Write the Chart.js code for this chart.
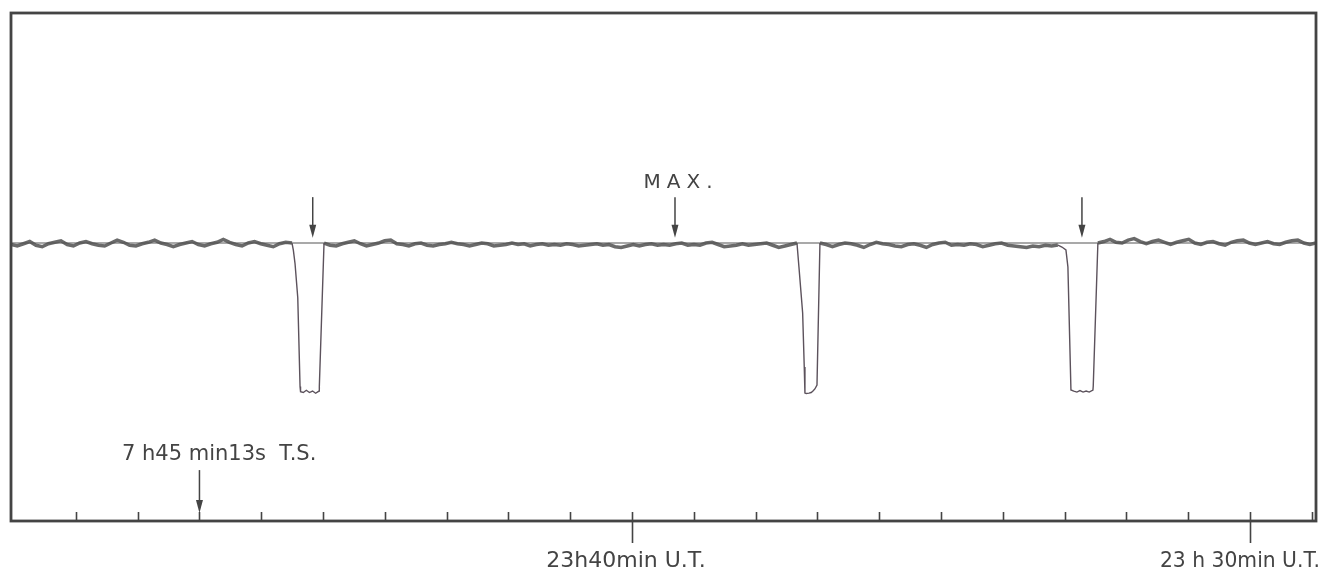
<!DOCTYPE html>
<html>
<head>
<meta charset="utf-8">
<script src="https://cdn.jsdelivr.net/npm/chart.js@4.4.1/dist/chart.umd.min.js"></script>
<style>
  html, body { margin: 0; padding: 0; background: #fff; }
  #wrap { width: 1323px; height: 572px; }
</style>
</head>
<body>
<div id="wrap"><canvas id="rec" width="1323" height="572"></canvas></div>
<script>
// --- recorder trace, x in minutes from left frame, y in % of full deflection ---
const X_MIN = -0.05;
const X_MAX = 21.07;

// baseline noise (evenly spaced samples)
const noiseA = { from: -0.05, to: 4.498, y: [-1, -2, -0.5, 1, -1.5, -2.5, -0.5, 0.5, 1.5, -1, -2, 0, 1, -0.5, -1.5, -2, 0, 2, 0.5, -1.5, -2, -0.5, 0.5, 2, 0, -1, -2.5, -1, 0, 1, -1, -2, -0.5, 0.5, 2.5, 0.5, -1, -2, 0, 1, -0.5, -1.5, -2.5, -0.5, 0.5, 0] };
const noiseB = { from: 5.016, to: 12.670, y: [0, -1.5, -2, -0.5, 0.5, 1.5, -0.5, -2, -1, 0, 1.5, 2, -0.5, -1, -2, -0.5, 0, -1.5, -2, -1, -0.5, 0.5, -0.5, -1, -2, -1, 0, -0.5, -2, -1.5, -1, 0, -1, -0.5, -2, -1, -0.5, -1.5, -1, -1.5, -0.5, -1, -2, -1.5, -1, -0.5, -1.5, -1, -2.5, -3, -2, -1, -2, -1, -0.5, -1.5, -1, -1.5, -0.5, 0, -1.5, -1, -1.5, 0, 0.5, -1, -2.5, -2, -1.5, -0.5, -1.5, -1, -0.5, 0, -1.5, -3, -2, -1, 0] };
const noiseC = { from: 13.042, to: 16.893, y: [0, -1, -2.5, -1, 0, -0.5, -1.5, -3, -1, 0.5, -0.5, -1, -2, -2.5, -1, -0.5, -1.5, -3, -1, 0, 0.5, -1.5, -1, -1.5, -0.5, -1, -2.5, -1.5, -0.5, 0, -1.5, -2, -2.5, -3, -2, -2.5, -1.5, -2, -1.4] };
const noiseD = { from: 17.540, to: 21.07, y: [0, 1, 2.5, 0.5, 0, 2, 3, 1, -0.5, 1, 2, 0.5, -1, 0.5, 1.5, 2.5, 0, -1, 0.5, 1, -0.5, -1.5, 0.5, 1.5, 2, 0, -1, 0, 1, -0.5, -1, 0.5, 1.5, 2, 0, -1, 0] };

// the three dips
const dip1X = [4.498, 4.52, 4.547, 4.591, 4.628, 4.636, 4.68, 4.73, 4.78, 4.83, 4.88, 4.935, 4.94, 5.016];
const dip1Y = [0, -5, -14, -37, -97, -100.5, -101, -99.5, -101, -100, -101.5, -100, -97, 0];
const dip2X = [12.670, 12.702, 12.762, 12.788, 12.799, 12.82, 12.864, 12.90, 12.929, 12.96, 12.994, 13.042];
const dip2Y = [0, -16.2, -47.3, -83.8, -101.4, -101.7, -101.4, -101, -100, -98.6, -95.9, 0];
const dip3X = [16.893, 16.958, 17.023, 17.055, 17.104, 17.15, 17.2, 17.25, 17.3, 17.35, 17.4, 17.46, 17.465, 17.540];
const dip3Y = [-1.4, -2.7, -4.7, -16.2, -99.3, -100, -100.7, -99.7, -100.7, -100, -100.7, -99.3, -96.6, 0];

// time scale: one tick per minute, two labelled ones
const minuteTicks = [1, 2, 3, 4, 5, 6, 7, 8, 9, 10, 11, 12, 13, 14, 15, 16, 17, 18, 19, 20, 21];
const majorTicks = [10, 20];
const majorLabels = ['23h40min U.T.', '23 h 30min U.T.'];

// marks above the trace
const arrowAt = [4.833, 10.696, 17.282];
const maxLabel = 'MAX.';
const siderealAt = 3;
const siderealLabel = '7 h45 min13s  T.S.';

const INK = '#444';
const FONT = '"DejaVu Sans", "Liberation Sans", sans-serif';

function seg(s) {
  const n = s.y.length;
  return s.y.map((v, i) => ({ x: s.from + (s.to - s.from) * i / (n - 1), y: v }));
}
function pairs(xs, ys) {
  return xs.map((v, i) => ({ x: v, y: ys[i] }));
}

function arrow(ctx, px, y0, y1) {
  ctx.beginPath();
  ctx.moveTo(px, y0);
  ctx.lineTo(px, y1 - 10);
  ctx.stroke();
  ctx.beginPath();
  ctx.moveTo(px - 3.5, y1 - 13);
  ctx.lineTo(px + 3.5, y1 - 13);
  ctx.lineTo(px, y1);
  ctx.closePath();
  ctx.fill();
}

const decorations = {
  id: 'decorations',
  afterDraw(chart) {
    const { ctx, chartArea: a, scales: { x, y } } = chart;
    ctx.save();
    ctx.strokeStyle = INK;
    ctx.fillStyle = INK;

    // frame
    ctx.lineWidth = 2.8;
    ctx.strokeRect(a.left, a.top, a.right - a.left, a.bottom - a.top);

    // minute ticks (inside) and the two long ones
    ctx.lineWidth = 1.6;
    minuteTicks.forEach(t => {
      const px = Math.round(x.getPixelForValue(t)) + 0.5;
      const big = majorTicks.includes(t);
      ctx.beginPath();
      ctx.moveTo(px, a.bottom - 9);
      ctx.lineTo(px, big ? a.bottom + 22 : a.bottom);
      ctx.stroke();
    });

    ctx.textAlign = 'center';
    ctx.textBaseline = 'middle';
    ctx.font = '22px ' + FONT;
    const offs = [-6, -10];
    const widths = [162, 160];
    majorTicks.forEach((t, i) => {
      ctx.fillText(majorLabels[i], x.getPixelForValue(t) + offs[i], a.bottom + 40, widths[i]);
    });

    // arrows over the dips
    ctx.lineWidth = 1.5;
    const yTop = y.getPixelForValue(31);
    const yTip = y.getPixelForValue(3.5);
    arrowAt.forEach(m => arrow(ctx, x.getPixelForValue(m), yTop, yTip));

    // MAX.
    ctx.font = '20px ' + FONT;
    ctx.letterSpacing = '6px';
    ctx.fillText(maxLabel, x.getPixelForValue(arrowAt[1]) + 6, y.getPixelForValue(40.5));
    ctx.letterSpacing = '0px';

    // sidereal time mark
    const sx = x.getPixelForValue(siderealAt);
    arrow(ctx, sx, y.getPixelForValue(-153.4), a.bottom - 8);
    ctx.textAlign = 'left';
    ctx.font = '21px ' + FONT;
    ctx.fillText(siderealLabel, 122, y.getPixelForValue(-143.2), 196);
    ctx.restore();
  }
};

const thick = { borderColor: 'rgba(90,90,90,0.9)', borderWidth: 3.5, pointRadius: 0, tension: 0 };
const thin = { borderColor: '#5c525c', borderWidth: 1.4, pointRadius: 0, tension: 0 };

new Chart(document.getElementById('rec'), {
  type: 'line',
  data: {
    datasets: [
      { ...thin, borderColor: '#555', borderWidth: 1.2, data: [{ x: X_MIN, y: 0 }, { x: X_MAX, y: 0 }] },
      { ...thick, data: seg(noiseA) },
      { ...thin, data: pairs(dip1X, dip1Y) },
      { ...thick, data: seg(noiseB) },
      { ...thin, data: pairs(dip2X, dip2Y) },
      { ...thick, data: seg(noiseC) },
      { ...thin, data: pairs(dip3X, dip3Y) },
      { ...thick, data: seg(noiseD) }
    ]
  },
  options: {
    responsive: false,
    animation: false,
    devicePixelRatio: 1,
    layout: { padding: { left: 11, right: 7, top: 13, bottom: 51 } },
    plugins: { legend: { display: false }, tooltip: { enabled: false } },
    scales: {
      x: { type: 'linear', min: X_MIN, max: X_MAX, display: false },
      y: { type: 'linear', min: -187.8, max: 155.4, display: false }
    }
  },
  plugins: [decorations]
});
</script>
</body>
</html>
